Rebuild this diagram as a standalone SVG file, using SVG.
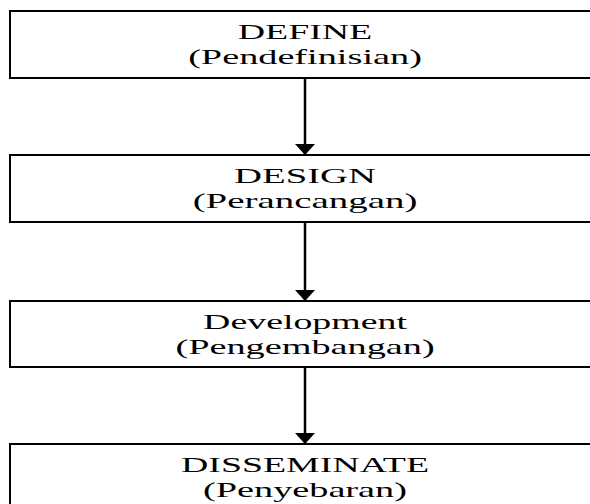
<svg xmlns="http://www.w3.org/2000/svg" width="590" height="504" viewBox="0 0 590 504">
<style>
.box{fill:#fff;stroke:#000;stroke-width:2}
.t{font-family:"Liberation Serif","Times New Roman",serif;font-size:22px;fill:#000;text-anchor:middle}
.c{stroke:#000;stroke-width:2.5;fill:none}
</style>
<defs>
<marker id="ah" markerUnits="userSpaceOnUse" markerWidth="11" markerHeight="20" refX="11" refY="10" orient="auto">
<path d="M0,0 L11,10 L0,20 Z" fill="#000"/>
</marker>
</defs>
<rect width="590" height="504" fill="#fff"/>
<g id="connectors">
<line class="c" x1="305" y1="78" x2="305" y2="155" marker-end="url(#ah)"/>
<line class="c" x1="305" y1="222" x2="305" y2="301" marker-end="url(#ah)"/>
<line class="c" x1="305" y1="367" x2="305" y2="444" marker-end="url(#ah)"/>
</g>
<g id="define">
<rect class="box" x="10" y="11" width="600" height="67"/>
<text class="t" transform="translate(305,39) scale(1.72,1)">DEFINE</text>
<text class="t" transform="translate(305,64) scale(1.74,1)">(Pendefinisian)</text>
</g>
<g id="design">
<rect class="box" x="10" y="155" width="600" height="67"/>
<text class="t" transform="translate(305,183) scale(1.76,1)">DESIGN</text>
<text class="t" transform="translate(305,208) scale(1.77,1)">(Perancangan)</text>
</g>
<g id="development">
<rect class="box" x="10" y="301" width="600" height="66"/>
<text class="t" transform="translate(305,329) scale(1.72,1)">Development</text>
<text class="t" transform="translate(305,354) scale(1.74,1)">(Pengembangan)</text>
</g>
<g id="disseminate">
<rect class="box" x="10" y="444" width="600" height="80"/>
<text class="t" transform="translate(305,472) scale(1.72,1)">DISSEMINATE</text>
<text class="t" transform="translate(305,497) scale(1.74,1)">(Penyebaran)</text>
</g>
</svg>
